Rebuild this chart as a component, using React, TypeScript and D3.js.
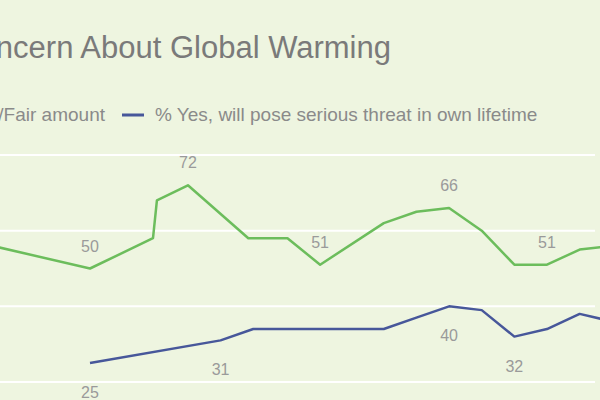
import React from "react";
import * as d3 from "d3";

// Worry a great deal / fair amount (%)
const worryYears = [1991, 1997, 1998.93, 1999.05, 2000, 2001.85, 2003.05, 2004.05, 2006, 2007, 2008, 2009, 2010, 2011, 2012, 2013];
const worryValues = [62, 50, 58, 68, 72, 58, 58, 51, 62, 65, 66, 60, 51, 51, 55, 56];
// Yes, will pose serious threat in own lifetime (%)
const threatYears = [1997, 2001, 2002, 2003, 2004, 2006, 2007, 2008, 2009, 2010, 2011, 2012, 2013];
const threatValues = [25, 31, 34, 34, 34, 34, 37, 40, 39, 32, 34, 38, 36];

const worryLabelIdx = [1, 4, 7, 10, 13];
const threatLabelIdx = [0, 1, 7, 9];

const gridValues = [80, 60, 40, 20];

const title = "Concern About Global Warming";
const legendWorry = "% Worry great deal/Fair amount";
const legendThreat = "% Yes, will pose serious threat in own lifetime";

const W = 600;
const H = 400;
const BG = "#eef5e0";
const GREEN = "#6cbd5c";
const BLUE = "#47579a";
const FONT = "'Liberation Sans', Arial, sans-serif";

export default function App() {
  const x = d3.scaleLinear().domain([1997, 2011]).range([90, 547]);
  const y = d3.scaleLinear().domain([20, 80]).range([382, 155]);

  const worry = worryYears.map((yr, i) => ({ yr, v: worryValues[i] }));
  const threat = threatYears.map((yr, i) => ({ yr, v: threatValues[i] }));

  const line = d3
    .line<{ yr: number; v: number }>()
    .x((d) => x(d.yr))
    .y((d) => y(d.v));

  return (
    <svg
      width={W}
      height={H}
      style={{ position: "absolute", left: 0, top: 0, display: "block", background: BG }}
      fontFamily={FONT}
    >
      <rect x={0} y={0} width={W} height={H} fill={BG} />
      <defs>
        <clipPath id="plotclip">
          <rect x={0} y={130} width={W} height={H - 130} />
        </clipPath>
      </defs>
      <text x={391} y={58} textAnchor="end" fontSize={31} fill="#7a7a7a">
        {title}
      </text>

      <text x={105} y={121} textAnchor="end" fontSize={19} fill="#8a8a8a">
        {legendWorry}
      </text>
      <line x1={122} x2={144} y1={115} y2={115} stroke={BLUE} strokeWidth={3} />
      <text x={155} y={121} fontSize={19} fill="#8a8a8a">
        {legendThreat}
      </text>

      {gridValues.map((g) => (
        <line key={g} x1={0} x2={595} y1={y(g)} y2={y(g)} stroke="#ffffff" strokeWidth={2} />
      ))}

      <g clipPath="url(#plotclip)">
        <path d={line(worry) || ""} fill="none" stroke={GREEN} strokeWidth={2.5} strokeLinejoin="round" />
        <path d={line(threat) || ""} fill="none" stroke={BLUE} strokeWidth={2.5} strokeLinejoin="round" />
      </g>

      {worryLabelIdx.map((i) => (
        <text
          key={"w" + i}
          x={x(worryYears[i])}
          y={y(worryValues[i]) - 17}
          textAnchor="middle"
          fontSize={16}
          fill="#9a9a9a"
        >
          {worryValues[i]}
        </text>
      ))}
      {threatLabelIdx.map((i) => (
        <text
          key={"t" + i}
          x={x(threatYears[i])}
          y={y(threatValues[i]) + 35}
          textAnchor="middle"
          fontSize={16}
          fill="#9a9a9a"
        >
          {threatValues[i]}
        </text>
      ))}
    </svg>
  );
}
